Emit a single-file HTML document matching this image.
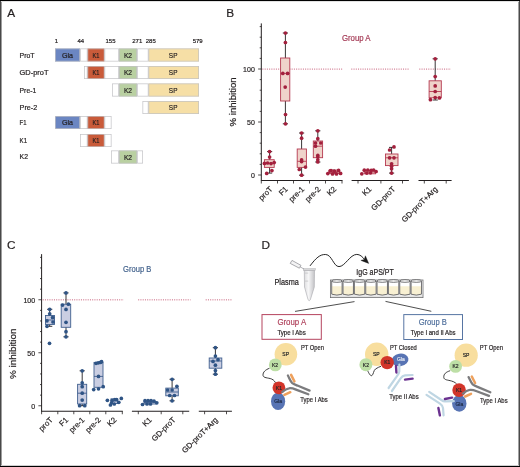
<!DOCTYPE html>
<html><head><meta charset="utf-8"><style>
html,body{margin:0;padding:0;background:#fff;}
body{width:520px;height:467px;overflow:hidden;position:relative;}
svg{position:absolute;left:0;top:0;will-change:transform;}
text{font-family:"Liberation Sans", sans-serif;}
.frame{position:absolute;left:0;top:0;width:518px;height:465px;border-top:1px solid #111;border-bottom:1px solid #111;border-left:1px solid #555;border-right:1px solid #555;box-sizing:content-box;pointer-events:none;}
</style></head><body>
<svg width="520" height="467" viewBox="0 0 520 467" font-family='"Liberation Sans", sans-serif'>
<rect x="0" y="0" width="520" height="467" fill="#fff"/>
<text x="7.2" y="17.0" font-size="11.8" fill="#231f20" stroke="#231f20" stroke-width="0.2" text-anchor="start" >A</text>
<text x="226.3" y="17.1" font-size="11.8" fill="#231f20" stroke="#231f20" stroke-width="0.2" text-anchor="start" >B</text>
<text x="7.0" y="248.8" font-size="11.8" fill="#231f20" stroke="#231f20" stroke-width="0.2" text-anchor="start" >C</text>
<text x="261.6" y="248.8" font-size="11.8" fill="#231f20" stroke="#231f20" stroke-width="0.2" text-anchor="start" >D</text>
<text x="19.6" y="57.9" font-size="7.3" fill="#231f20" stroke="#231f20" stroke-width="0.2" text-anchor="start" textLength="15.0" lengthAdjust="spacingAndGlyphs" >ProT</text>
<rect x="55" y="48.5" width="25" height="13.0" fill="#6b86c2"/>
<rect x="80" y="48.5" width="7.5" height="13.0" fill="#fff"/>
<rect x="87.5" y="48.5" width="17.0" height="13.0" fill="#c95b3a"/>
<rect x="104.5" y="48.5" width="14.5" height="13.0" fill="#fff"/>
<rect x="119" y="48.5" width="18" height="13.0" fill="#b9d0a1"/>
<rect x="137" y="48.5" width="11.5" height="13.0" fill="#fff"/>
<rect x="148.5" y="48.5" width="50.5" height="13.0" fill="#f6dfa6"/>
<rect x="55.35" y="48.85" width="24.3" height="12.3" fill="none" stroke="#c2c2c5" stroke-width="0.7"/>
<text x="67.5" y="57.8" font-size="7.9" fill="#231f20" stroke="#231f20" stroke-width="0.2" text-anchor="middle" textLength="11.1" lengthAdjust="spacingAndGlyphs" >Gla</text>
<rect x="80.35" y="48.85" width="6.8" height="12.3" fill="none" stroke="#c2c2c5" stroke-width="0.7"/>
<rect x="87.85" y="48.85" width="16.3" height="12.3" fill="none" stroke="#c2c2c5" stroke-width="0.7"/>
<text x="96.0" y="57.8" font-size="7.9" fill="#231f20" stroke="#231f20" stroke-width="0.2" text-anchor="middle" textLength="6.9" lengthAdjust="spacingAndGlyphs" >K1</text>
<rect x="104.85" y="48.85" width="13.8" height="12.3" fill="none" stroke="#c2c2c5" stroke-width="0.7"/>
<rect x="119.35" y="48.85" width="17.3" height="12.3" fill="none" stroke="#c2c2c5" stroke-width="0.7"/>
<text x="128.0" y="57.8" font-size="7.9" fill="#231f20" stroke="#231f20" stroke-width="0.2" text-anchor="middle" textLength="8.2" lengthAdjust="spacingAndGlyphs" >K2</text>
<rect x="137.35" y="48.85" width="10.8" height="12.3" fill="none" stroke="#c2c2c5" stroke-width="0.7"/>
<rect x="148.85" y="48.85" width="49.8" height="12.3" fill="none" stroke="#c2c2c5" stroke-width="0.7"/>
<text x="173.15" y="57.8" font-size="7.9" fill="#231f20" stroke="#231f20" stroke-width="0.2" text-anchor="middle" textLength="8.6" lengthAdjust="spacingAndGlyphs" >SP</text>
<text x="19.6" y="74.7" font-size="7.3" fill="#231f20" stroke="#231f20" stroke-width="0.2" text-anchor="start" textLength="28.9" lengthAdjust="spacingAndGlyphs" >GD-proT</text>
<rect x="84" y="66" width="3.5" height="13.0" fill="#fff"/>
<rect x="87.5" y="66" width="17.0" height="13.0" fill="#c95b3a"/>
<rect x="104.5" y="66" width="14.5" height="13.0" fill="#fff"/>
<rect x="119" y="66" width="18" height="13.0" fill="#b9d0a1"/>
<rect x="137" y="66" width="11.5" height="13.0" fill="#fff"/>
<rect x="148.5" y="66" width="50.5" height="13.0" fill="#f6dfa6"/>
<rect x="84.35" y="66.35" width="2.8" height="12.3" fill="none" stroke="#c2c2c5" stroke-width="0.7"/>
<rect x="87.85" y="66.35" width="16.3" height="12.3" fill="none" stroke="#c2c2c5" stroke-width="0.7"/>
<text x="96.0" y="75.3" font-size="7.9" fill="#231f20" stroke="#231f20" stroke-width="0.2" text-anchor="middle" textLength="6.9" lengthAdjust="spacingAndGlyphs" >K1</text>
<rect x="104.85" y="66.35" width="13.8" height="12.3" fill="none" stroke="#c2c2c5" stroke-width="0.7"/>
<rect x="119.35" y="66.35" width="17.3" height="12.3" fill="none" stroke="#c2c2c5" stroke-width="0.7"/>
<text x="128.0" y="75.3" font-size="7.9" fill="#231f20" stroke="#231f20" stroke-width="0.2" text-anchor="middle" textLength="8.2" lengthAdjust="spacingAndGlyphs" >K2</text>
<rect x="137.35" y="66.35" width="10.8" height="12.3" fill="none" stroke="#c2c2c5" stroke-width="0.7"/>
<rect x="148.85" y="66.35" width="49.8" height="12.3" fill="none" stroke="#c2c2c5" stroke-width="0.7"/>
<text x="173.15" y="75.3" font-size="7.9" fill="#231f20" stroke="#231f20" stroke-width="0.2" text-anchor="middle" textLength="8.6" lengthAdjust="spacingAndGlyphs" >SP</text>
<text x="19.6" y="92.5" font-size="7.3" fill="#231f20" stroke="#231f20" stroke-width="0.2" text-anchor="start" textLength="16.6" lengthAdjust="spacingAndGlyphs" >Pre-1</text>
<rect x="112" y="83.5" width="7" height="13.0" fill="#fff"/>
<rect x="119" y="83.5" width="18" height="13.0" fill="#b9d0a1"/>
<rect x="137" y="83.5" width="11.5" height="13.0" fill="#fff"/>
<rect x="148.5" y="83.5" width="50.5" height="13.0" fill="#f6dfa6"/>
<rect x="112.35" y="83.85" width="6.3" height="12.3" fill="none" stroke="#c2c2c5" stroke-width="0.7"/>
<rect x="119.35" y="83.85" width="17.3" height="12.3" fill="none" stroke="#c2c2c5" stroke-width="0.7"/>
<text x="128.0" y="92.8" font-size="7.9" fill="#231f20" stroke="#231f20" stroke-width="0.2" text-anchor="middle" textLength="8.2" lengthAdjust="spacingAndGlyphs" >K2</text>
<rect x="137.35" y="83.85" width="10.8" height="12.3" fill="none" stroke="#c2c2c5" stroke-width="0.7"/>
<rect x="148.85" y="83.85" width="49.8" height="12.3" fill="none" stroke="#c2c2c5" stroke-width="0.7"/>
<text x="173.15" y="92.8" font-size="7.9" fill="#231f20" stroke="#231f20" stroke-width="0.2" text-anchor="middle" textLength="8.6" lengthAdjust="spacingAndGlyphs" >SP</text>
<text x="19.6" y="110.3" font-size="7.3" fill="#231f20" stroke="#231f20" stroke-width="0.2" text-anchor="start" textLength="17.6" lengthAdjust="spacingAndGlyphs" >Pre-2</text>
<rect x="142.5" y="101" width="6.0" height="13.0" fill="#fff"/>
<rect x="148.5" y="101" width="50.5" height="13.0" fill="#f6dfa6"/>
<rect x="142.85" y="101.35" width="5.3" height="12.3" fill="none" stroke="#c2c2c5" stroke-width="0.7"/>
<rect x="148.85" y="101.35" width="49.8" height="12.3" fill="none" stroke="#c2c2c5" stroke-width="0.7"/>
<text x="173.15" y="110.3" font-size="7.9" fill="#231f20" stroke="#231f20" stroke-width="0.2" text-anchor="middle" textLength="8.6" lengthAdjust="spacingAndGlyphs" >SP</text>
<text x="19.6" y="124.6" font-size="7.3" fill="#231f20" stroke="#231f20" stroke-width="0.2" text-anchor="start" textLength="6.9" lengthAdjust="spacingAndGlyphs" >F1</text>
<rect x="55" y="116" width="25" height="13.0" fill="#6b86c2"/>
<rect x="80" y="116" width="7.5" height="13.0" fill="#fff"/>
<rect x="87.5" y="116" width="17.0" height="13.0" fill="#c95b3a"/>
<rect x="104.5" y="116" width="7.0" height="13.0" fill="#fff"/>
<rect x="55.35" y="116.35" width="24.3" height="12.3" fill="none" stroke="#c2c2c5" stroke-width="0.7"/>
<text x="67.5" y="125.3" font-size="7.9" fill="#231f20" stroke="#231f20" stroke-width="0.2" text-anchor="middle" textLength="11.1" lengthAdjust="spacingAndGlyphs" >Gla</text>
<rect x="80.35" y="116.35" width="6.8" height="12.3" fill="none" stroke="#c2c2c5" stroke-width="0.7"/>
<rect x="87.85" y="116.35" width="16.3" height="12.3" fill="none" stroke="#c2c2c5" stroke-width="0.7"/>
<text x="96.0" y="125.3" font-size="7.9" fill="#231f20" stroke="#231f20" stroke-width="0.2" text-anchor="middle" textLength="6.9" lengthAdjust="spacingAndGlyphs" >K1</text>
<rect x="104.85" y="116.35" width="6.3" height="12.3" fill="none" stroke="#c2c2c5" stroke-width="0.7"/>
<text x="19.6" y="142.9" font-size="7.3" fill="#231f20" stroke="#231f20" stroke-width="0.2" text-anchor="start" textLength="7.5" lengthAdjust="spacingAndGlyphs" >K1</text>
<rect x="80" y="134" width="7.5" height="13.0" fill="#fff"/>
<rect x="87.5" y="134" width="17.0" height="13.0" fill="#c95b3a"/>
<rect x="104.5" y="134" width="7.0" height="13.0" fill="#fff"/>
<rect x="80.35" y="134.35" width="6.8" height="12.3" fill="none" stroke="#c2c2c5" stroke-width="0.7"/>
<rect x="87.85" y="134.35" width="16.3" height="12.3" fill="none" stroke="#c2c2c5" stroke-width="0.7"/>
<text x="96.0" y="143.3" font-size="7.9" fill="#231f20" stroke="#231f20" stroke-width="0.2" text-anchor="middle" textLength="6.9" lengthAdjust="spacingAndGlyphs" >K1</text>
<rect x="104.85" y="134.35" width="6.3" height="12.3" fill="none" stroke="#c2c2c5" stroke-width="0.7"/>
<text x="19.6" y="159.3" font-size="7.3" fill="#231f20" stroke="#231f20" stroke-width="0.2" text-anchor="start" textLength="8.4" lengthAdjust="spacingAndGlyphs" >K2</text>
<rect x="111" y="150.5" width="8" height="13.0" fill="#fff"/>
<rect x="119" y="150.5" width="18" height="13.0" fill="#b9d0a1"/>
<rect x="137" y="150.5" width="6" height="13.0" fill="#fff"/>
<rect x="111.35" y="150.85" width="7.3" height="12.3" fill="none" stroke="#c2c2c5" stroke-width="0.7"/>
<rect x="119.35" y="150.85" width="17.3" height="12.3" fill="none" stroke="#c2c2c5" stroke-width="0.7"/>
<text x="128.0" y="159.8" font-size="7.9" fill="#231f20" stroke="#231f20" stroke-width="0.2" text-anchor="middle" textLength="8.2" lengthAdjust="spacingAndGlyphs" >K2</text>
<rect x="137.35" y="150.85" width="5.3" height="12.3" fill="none" stroke="#c2c2c5" stroke-width="0.7"/>
<text x="56.3" y="43" font-size="6" fill="#231f20" stroke="#231f20" stroke-width="0.2" text-anchor="middle" >1</text>
<text x="80.8" y="43" font-size="6" fill="#231f20" stroke="#231f20" stroke-width="0.2" text-anchor="middle" >44</text>
<text x="110.5" y="43" font-size="6" fill="#231f20" stroke="#231f20" stroke-width="0.2" text-anchor="middle" >155</text>
<text x="137.3" y="43" font-size="6" fill="#231f20" stroke="#231f20" stroke-width="0.2" text-anchor="middle" >271</text>
<text x="150.8" y="43" font-size="6" fill="#231f20" stroke="#231f20" stroke-width="0.2" text-anchor="middle" >285</text>
<text x="197.7" y="43" font-size="6" fill="#231f20" stroke="#231f20" stroke-width="0.2" text-anchor="middle" >579</text>
<g transform="translate(0,0)">
<line x1="261.3" y1="23.4" x2="261.3" y2="181.0" stroke="#231f20" stroke-width="1"/>
<line x1="258.1" y1="175.0" x2="261.3" y2="175.0" stroke="#231f20" stroke-width="0.8"/>
<line x1="259.7" y1="164.4" x2="261.3" y2="164.4" stroke="#231f20" stroke-width="0.8"/>
<line x1="259.7" y1="153.8" x2="261.3" y2="153.8" stroke="#231f20" stroke-width="0.8"/>
<line x1="259.7" y1="143.2" x2="261.3" y2="143.2" stroke="#231f20" stroke-width="0.8"/>
<line x1="259.7" y1="132.6" x2="261.3" y2="132.6" stroke="#231f20" stroke-width="0.8"/>
<line x1="258.1" y1="122.0" x2="261.3" y2="122.0" stroke="#231f20" stroke-width="0.8"/>
<line x1="259.7" y1="111.4" x2="261.3" y2="111.4" stroke="#231f20" stroke-width="0.8"/>
<line x1="259.7" y1="100.8" x2="261.3" y2="100.8" stroke="#231f20" stroke-width="0.8"/>
<line x1="259.7" y1="90.19999999999999" x2="261.3" y2="90.19999999999999" stroke="#231f20" stroke-width="0.8"/>
<line x1="259.7" y1="79.6" x2="261.3" y2="79.6" stroke="#231f20" stroke-width="0.8"/>
<line x1="258.1" y1="69.0" x2="261.3" y2="69.0" stroke="#231f20" stroke-width="0.8"/>
<line x1="259.7" y1="58.39999999999999" x2="261.3" y2="58.39999999999999" stroke="#231f20" stroke-width="0.8"/>
<line x1="259.7" y1="47.8" x2="261.3" y2="47.8" stroke="#231f20" stroke-width="0.8"/>
<line x1="259.7" y1="37.19999999999999" x2="261.3" y2="37.19999999999999" stroke="#231f20" stroke-width="0.8"/>
<line x1="259.7" y1="26.599999999999994" x2="261.3" y2="26.599999999999994" stroke="#231f20" stroke-width="0.8"/>
<text x="254.8" y="177.75" font-size="7.6" fill="#231f20" stroke="#231f20" stroke-width="0.2" text-anchor="end" textLength="3.9" lengthAdjust="spacingAndGlyphs" >0</text>
<text x="254.8" y="124.75" font-size="7.6" fill="#231f20" stroke="#231f20" stroke-width="0.2" text-anchor="end" textLength="7.8" lengthAdjust="spacingAndGlyphs" >50</text>
<text x="254.8" y="71.75" font-size="7.6" fill="#231f20" stroke="#231f20" stroke-width="0.2" text-anchor="end" textLength="11.7" lengthAdjust="spacingAndGlyphs" >100</text>
<text transform="translate(235.5,101.9) rotate(-90)" font-size="8.8" fill="#231f20" stroke="#231f20" stroke-width="0.2" text-anchor="middle" textLength="49" lengthAdjust="spacingAndGlyphs">% inhibition</text>
<line x1="261.3" y1="180.5" x2="342.5" y2="180.5" stroke="#231f20" stroke-width="1.1"/>
<line x1="261.3" y1="180.5" x2="261.3" y2="183.5" stroke="#231f20" stroke-width="0.8"/>
<line x1="277.5" y1="180.5" x2="277.5" y2="183.5" stroke="#231f20" stroke-width="0.8"/>
<line x1="293.5" y1="180.5" x2="293.5" y2="183.5" stroke="#231f20" stroke-width="0.8"/>
<line x1="309.5" y1="180.5" x2="309.5" y2="183.5" stroke="#231f20" stroke-width="0.8"/>
<line x1="325.5" y1="180.5" x2="325.5" y2="183.5" stroke="#231f20" stroke-width="0.8"/>
<line x1="342.0" y1="180.5" x2="342.0" y2="183.5" stroke="#231f20" stroke-width="0.8"/>
<line x1="351.6" y1="180.5" x2="408.9" y2="180.5" stroke="#231f20" stroke-width="1.1"/>
<line x1="358.0" y1="180.5" x2="358.0" y2="183.5" stroke="#231f20" stroke-width="0.8"/>
<line x1="380.9" y1="180.5" x2="380.9" y2="183.5" stroke="#231f20" stroke-width="0.8"/>
<line x1="402.5" y1="180.5" x2="402.5" y2="183.5" stroke="#231f20" stroke-width="0.8"/>
<line x1="418.5" y1="180.5" x2="451.6" y2="180.5" stroke="#231f20" stroke-width="1.1"/>
<line x1="424.3" y1="180.5" x2="424.3" y2="183.5" stroke="#231f20" stroke-width="0.8"/>
<line x1="446.2" y1="180.5" x2="446.2" y2="183.5" stroke="#231f20" stroke-width="0.8"/>
<line x1="262.4" y1="69.1" x2="342.5" y2="69.1" stroke="#c65d78" stroke-width="1" stroke-dasharray="1 1.25"/>
<line x1="351.3" y1="69.1" x2="409.5" y2="69.1" stroke="#c65d78" stroke-width="1" stroke-dasharray="1 1.25"/>
<line x1="419.3" y1="69.1" x2="451.0" y2="69.1" stroke="#c65d78" stroke-width="1" stroke-dasharray="1 1.25"/>
<text x="341.9" y="41" font-size="8.2" fill="#a63d58" stroke="#a63d58" stroke-width="0.2" text-anchor="start" textLength="28.7" lengthAdjust="spacingAndGlyphs" >Group A</text>
<text transform="translate(273.09999999999997,189.6) rotate(-45)" font-size="7.8" fill="#231f20" stroke="#231f20" stroke-width="0.2" text-anchor="end">proT</text>
<text transform="translate(288.4,189.6) rotate(-45)" font-size="7.8" fill="#231f20" stroke="#231f20" stroke-width="0.2" text-anchor="end">F1</text>
<text transform="translate(304.79999999999995,189.6) rotate(-45)" font-size="7.8" fill="#231f20" stroke="#231f20" stroke-width="0.2" text-anchor="end">pre-1</text>
<text transform="translate(321.0,189.6) rotate(-45)" font-size="7.8" fill="#231f20" stroke="#231f20" stroke-width="0.2" text-anchor="end">pre-2</text>
<text transform="translate(336.79999999999995,189.6) rotate(-45)" font-size="7.8" fill="#231f20" stroke="#231f20" stroke-width="0.2" text-anchor="end">K2</text>
<text transform="translate(372.0,189.6) rotate(-45)" font-size="7.8" fill="#231f20" stroke="#231f20" stroke-width="0.2" text-anchor="end">K1</text>
<text transform="translate(395.79999999999995,189.6) rotate(-45)" font-size="7.8" fill="#231f20" stroke="#231f20" stroke-width="0.2" text-anchor="end">GD-proT</text>
<text transform="translate(438.0,189.6) rotate(-45)" font-size="7.8" fill="#231f20" stroke="#231f20" stroke-width="0.2" text-anchor="end">GD-proT+Arg</text>
<line x1="269.6" y1="151.6" x2="269.6" y2="173.1" stroke="#231f20" stroke-width="0.9"/>
<line x1="267.0" y1="151.6" x2="272.20000000000005" y2="151.6" stroke="#231f20" stroke-width="0.9"/>
<line x1="267.0" y1="173.1" x2="272.20000000000005" y2="173.1" stroke="#231f20" stroke-width="0.9"/>
<rect x="264.4" y="159.7" width="9.800000000000011" height="7.700000000000017" fill="#efd3ca" stroke="#b53a51" stroke-width="0.9"/>
<line x1="264.4" y1="163.3" x2="274.2" y2="163.3" stroke="#b53a51" stroke-width="0.9"/>
<circle cx="269.6" cy="151.6" r="1.85" fill="#a3203d"/>
<circle cx="269.6" cy="157.1" r="1.85" fill="#a3203d"/>
<circle cx="264.4" cy="163.4" r="1.85" fill="#a3203d"/>
<circle cx="267.6" cy="163.0" r="1.85" fill="#a3203d"/>
<circle cx="271.0" cy="163.6" r="1.85" fill="#a3203d"/>
<circle cx="274.2" cy="162.6" r="1.85" fill="#a3203d"/>
<circle cx="271.9" cy="170.6" r="1.85" fill="#a3203d"/>
<circle cx="266.7" cy="173.4" r="1.85" fill="#a3203d"/>
<line x1="285.4" y1="33.0" x2="285.4" y2="123.8" stroke="#231f20" stroke-width="0.9"/>
<line x1="282.79999999999995" y1="33.0" x2="288.0" y2="33.0" stroke="#231f20" stroke-width="0.9"/>
<line x1="282.79999999999995" y1="123.8" x2="288.0" y2="123.8" stroke="#231f20" stroke-width="0.9"/>
<rect x="280.6" y="58.0" width="9.199999999999989" height="43.0" fill="#efd3ca" stroke="#b53a51" stroke-width="0.9"/>
<line x1="280.6" y1="73.4" x2="289.8" y2="73.4" stroke="#b53a51" stroke-width="0.9"/>
<circle cx="285.4" cy="33.0" r="1.85" fill="#a3203d"/>
<circle cx="285.4" cy="42.5" r="1.85" fill="#a3203d"/>
<circle cx="282.8" cy="73.4" r="1.85" fill="#a3203d"/>
<circle cx="287.6" cy="73.4" r="1.85" fill="#a3203d"/>
<circle cx="285.2" cy="87.1" r="1.85" fill="#a3203d"/>
<circle cx="285.5" cy="114.5" r="1.85" fill="#a3203d"/>
<circle cx="285.5" cy="123.8" r="1.85" fill="#a3203d"/>
<line x1="301.6" y1="133.0" x2="301.6" y2="175.2" stroke="#231f20" stroke-width="0.9"/>
<line x1="299.0" y1="133.0" x2="304.20000000000005" y2="133.0" stroke="#231f20" stroke-width="0.9"/>
<line x1="299.0" y1="175.2" x2="304.20000000000005" y2="175.2" stroke="#231f20" stroke-width="0.9"/>
<rect x="297.2" y="149.0" width="9.199999999999989" height="18.400000000000006" fill="#efd3ca" stroke="#b53a51" stroke-width="0.9"/>
<line x1="297.2" y1="161.3" x2="306.4" y2="161.3" stroke="#b53a51" stroke-width="0.9"/>
<circle cx="301.6" cy="133.0" r="1.85" fill="#a3203d"/>
<circle cx="301.6" cy="138.2" r="1.85" fill="#a3203d"/>
<circle cx="301.6" cy="159.9" r="1.85" fill="#a3203d"/>
<circle cx="301.6" cy="161.6" r="1.85" fill="#a3203d"/>
<circle cx="305.5" cy="167.1" r="1.85" fill="#a3203d"/>
<circle cx="299.3" cy="169.5" r="1.85" fill="#a3203d"/>
<circle cx="301.6" cy="175.2" r="1.85" fill="#a3203d"/>
<line x1="317.8" y1="130.8" x2="317.8" y2="162.0" stroke="#231f20" stroke-width="0.9"/>
<line x1="315.2" y1="130.8" x2="320.40000000000003" y2="130.8" stroke="#231f20" stroke-width="0.9"/>
<line x1="315.2" y1="162.0" x2="320.40000000000003" y2="162.0" stroke="#231f20" stroke-width="0.9"/>
<rect x="313.3" y="141.0" width="9.300000000000011" height="16.69999999999999" fill="#efd3ca" stroke="#b53a51" stroke-width="0.9"/>
<line x1="313.3" y1="146.2" x2="322.6" y2="146.2" stroke="#b53a51" stroke-width="0.9"/>
<circle cx="317.8" cy="130.8" r="1.85" fill="#a3203d"/>
<circle cx="317.8" cy="138.7" r="1.85" fill="#a3203d"/>
<circle cx="315.5" cy="143.0" r="1.85" fill="#a3203d"/>
<circle cx="320.8" cy="143.0" r="1.85" fill="#a3203d"/>
<circle cx="315.5" cy="146.2" r="1.85" fill="#a3203d"/>
<circle cx="317.8" cy="155.4" r="1.85" fill="#a3203d"/>
<circle cx="317.8" cy="157.0" r="1.85" fill="#a3203d"/>
<circle cx="317.8" cy="159.8" r="1.85" fill="#a3203d"/>
<circle cx="317.8" cy="162.0" r="1.85" fill="#a3203d"/>
<line x1="334.0" y1="169.3" x2="334.0" y2="174.3" stroke="#231f20" stroke-width="0.9"/>
<rect x="329.4" y="170.0" width="10.0" height="3.4000000000000057" fill="#efd3ca" stroke="#b53a51" stroke-width="0.9"/>
<line x1="329.4" y1="171.8" x2="339.4" y2="171.8" stroke="#b53a51" stroke-width="0.9"/>
<circle cx="327.8" cy="173.6" r="1.85" fill="#a3203d"/>
<circle cx="330.0" cy="171.0" r="1.85" fill="#a3203d"/>
<circle cx="332.5" cy="173.9" r="1.85" fill="#a3203d"/>
<circle cx="334.5" cy="171.3" r="1.85" fill="#a3203d"/>
<circle cx="336.5" cy="173.9" r="1.85" fill="#a3203d"/>
<circle cx="338.6" cy="170.4" r="1.85" fill="#a3203d"/>
<circle cx="340.6" cy="173.4" r="1.85" fill="#a3203d"/>
<circle cx="331.0" cy="170.5" r="1.85" fill="#a3203d"/>
<line x1="369.3" y1="170.0" x2="369.3" y2="174.0" stroke="#231f20" stroke-width="0.9"/>
<rect x="364.2" y="170.4" width="11.400000000000034" height="3.4000000000000057" fill="#efd3ca" stroke="#b53a51" stroke-width="0.9"/>
<line x1="364.2" y1="172.0" x2="375.6" y2="172.0" stroke="#b53a51" stroke-width="0.9"/>
<circle cx="361.8" cy="173.8" r="1.85" fill="#a3203d"/>
<circle cx="364.3" cy="170.2" r="1.85" fill="#a3203d"/>
<circle cx="367.8" cy="170.0" r="1.85" fill="#a3203d"/>
<circle cx="373.6" cy="170.0" r="1.85" fill="#a3203d"/>
<circle cx="376.1" cy="171.5" r="1.85" fill="#a3203d"/>
<circle cx="366.8" cy="173.1" r="1.85" fill="#a3203d"/>
<circle cx="370.5" cy="172.8" r="1.85" fill="#a3203d"/>
<circle cx="371.2" cy="170.3" r="1.85" fill="#a3203d"/>
<line x1="391.6" y1="147.4" x2="391.6" y2="173.1" stroke="#231f20" stroke-width="0.9"/>
<line x1="389.0" y1="147.4" x2="394.20000000000005" y2="147.4" stroke="#231f20" stroke-width="0.9"/>
<line x1="389.0" y1="173.1" x2="394.20000000000005" y2="173.1" stroke="#231f20" stroke-width="0.9"/>
<rect x="385.5" y="154.0" width="12.5" height="11.599999999999994" fill="#efd3ca" stroke="#b53a51" stroke-width="0.9"/>
<line x1="385.5" y1="157.8" x2="398.0" y2="157.8" stroke="#b53a51" stroke-width="0.9"/>
<circle cx="394.0" cy="146.9" r="1.85" fill="#a3203d"/>
<circle cx="389.6" cy="150.0" r="1.85" fill="#a3203d"/>
<circle cx="389.6" cy="157.8" r="1.85" fill="#a3203d"/>
<circle cx="394.0" cy="157.8" r="1.85" fill="#a3203d"/>
<circle cx="391.6" cy="163.8" r="1.85" fill="#a3203d"/>
<circle cx="391.6" cy="166.3" r="1.85" fill="#a3203d"/>
<circle cx="391.6" cy="168.8" r="1.85" fill="#a3203d"/>
<circle cx="391.6" cy="173.1" r="1.85" fill="#a3203d"/>
<line x1="435.2" y1="58.8" x2="435.2" y2="100.0" stroke="#231f20" stroke-width="0.9"/>
<line x1="432.59999999999997" y1="58.8" x2="437.8" y2="58.8" stroke="#231f20" stroke-width="0.9"/>
<line x1="432.59999999999997" y1="100.0" x2="437.8" y2="100.0" stroke="#231f20" stroke-width="0.9"/>
<rect x="429.1" y="80.8" width="12.199999999999989" height="17.0" fill="#efd3ca" stroke="#b53a51" stroke-width="0.9"/>
<line x1="429.1" y1="91.5" x2="441.3" y2="91.5" stroke="#b53a51" stroke-width="0.9"/>
<circle cx="435.2" cy="58.8" r="1.85" fill="#a3203d"/>
<circle cx="435.2" cy="76.6" r="1.85" fill="#a3203d"/>
<circle cx="435.2" cy="85.9" r="1.85" fill="#a3203d"/>
<circle cx="435.2" cy="91.5" r="1.85" fill="#a3203d"/>
<circle cx="435.2" cy="97.5" r="1.85" fill="#a3203d"/>
<circle cx="439.4" cy="97.9" r="1.85" fill="#a3203d"/>
<circle cx="430.4" cy="99.7" r="1.85" fill="#a3203d"/>
</g>
<g transform="translate(-219.7,230.75)">
<line x1="261.3" y1="23.4" x2="261.3" y2="181.0" stroke="#231f20" stroke-width="1"/>
<line x1="258.1" y1="175.0" x2="261.3" y2="175.0" stroke="#231f20" stroke-width="0.8"/>
<line x1="259.7" y1="164.4" x2="261.3" y2="164.4" stroke="#231f20" stroke-width="0.8"/>
<line x1="259.7" y1="153.8" x2="261.3" y2="153.8" stroke="#231f20" stroke-width="0.8"/>
<line x1="259.7" y1="143.2" x2="261.3" y2="143.2" stroke="#231f20" stroke-width="0.8"/>
<line x1="259.7" y1="132.6" x2="261.3" y2="132.6" stroke="#231f20" stroke-width="0.8"/>
<line x1="258.1" y1="122.0" x2="261.3" y2="122.0" stroke="#231f20" stroke-width="0.8"/>
<line x1="259.7" y1="111.4" x2="261.3" y2="111.4" stroke="#231f20" stroke-width="0.8"/>
<line x1="259.7" y1="100.8" x2="261.3" y2="100.8" stroke="#231f20" stroke-width="0.8"/>
<line x1="259.7" y1="90.19999999999999" x2="261.3" y2="90.19999999999999" stroke="#231f20" stroke-width="0.8"/>
<line x1="259.7" y1="79.6" x2="261.3" y2="79.6" stroke="#231f20" stroke-width="0.8"/>
<line x1="258.1" y1="69.0" x2="261.3" y2="69.0" stroke="#231f20" stroke-width="0.8"/>
<line x1="259.7" y1="58.39999999999999" x2="261.3" y2="58.39999999999999" stroke="#231f20" stroke-width="0.8"/>
<line x1="259.7" y1="47.8" x2="261.3" y2="47.8" stroke="#231f20" stroke-width="0.8"/>
<line x1="259.7" y1="37.19999999999999" x2="261.3" y2="37.19999999999999" stroke="#231f20" stroke-width="0.8"/>
<line x1="259.7" y1="26.599999999999994" x2="261.3" y2="26.599999999999994" stroke="#231f20" stroke-width="0.8"/>
<text x="254.8" y="177.75" font-size="7.6" fill="#231f20" stroke="#231f20" stroke-width="0.2" text-anchor="end" textLength="3.9" lengthAdjust="spacingAndGlyphs" >0</text>
<text x="254.8" y="124.75" font-size="7.6" fill="#231f20" stroke="#231f20" stroke-width="0.2" text-anchor="end" textLength="7.8" lengthAdjust="spacingAndGlyphs" >50</text>
<text x="254.8" y="71.75" font-size="7.6" fill="#231f20" stroke="#231f20" stroke-width="0.2" text-anchor="end" textLength="11.7" lengthAdjust="spacingAndGlyphs" >100</text>
<text transform="translate(235.5,122.95) rotate(-90)" font-size="8.8" fill="#231f20" stroke="#231f20" stroke-width="0.2" text-anchor="middle" textLength="50.4" lengthAdjust="spacingAndGlyphs">% inhibition</text>
<line x1="261.3" y1="180.5" x2="342.5" y2="180.5" stroke="#231f20" stroke-width="1.1"/>
<line x1="261.3" y1="180.5" x2="261.3" y2="183.5" stroke="#231f20" stroke-width="0.8"/>
<line x1="277.5" y1="180.5" x2="277.5" y2="183.5" stroke="#231f20" stroke-width="0.8"/>
<line x1="293.5" y1="180.5" x2="293.5" y2="183.5" stroke="#231f20" stroke-width="0.8"/>
<line x1="309.5" y1="180.5" x2="309.5" y2="183.5" stroke="#231f20" stroke-width="0.8"/>
<line x1="325.5" y1="180.5" x2="325.5" y2="183.5" stroke="#231f20" stroke-width="0.8"/>
<line x1="342.0" y1="180.5" x2="342.0" y2="183.5" stroke="#231f20" stroke-width="0.8"/>
<line x1="351.6" y1="180.5" x2="408.9" y2="180.5" stroke="#231f20" stroke-width="1.1"/>
<line x1="358.0" y1="180.5" x2="358.0" y2="183.5" stroke="#231f20" stroke-width="0.8"/>
<line x1="380.9" y1="180.5" x2="380.9" y2="183.5" stroke="#231f20" stroke-width="0.8"/>
<line x1="402.5" y1="180.5" x2="402.5" y2="183.5" stroke="#231f20" stroke-width="0.8"/>
<line x1="418.5" y1="180.5" x2="451.6" y2="180.5" stroke="#231f20" stroke-width="1.1"/>
<line x1="424.3" y1="180.5" x2="424.3" y2="183.5" stroke="#231f20" stroke-width="0.8"/>
<line x1="446.2" y1="180.5" x2="446.2" y2="183.5" stroke="#231f20" stroke-width="0.8"/>
<line x1="262.4" y1="69.1" x2="343.5" y2="69.1" stroke="#c65d78" stroke-width="1" stroke-dasharray="1 1.25"/>
<line x1="357.9" y1="69.1" x2="410.2" y2="69.1" stroke="#c65d78" stroke-width="1" stroke-dasharray="1 1.25"/>
<line x1="425.4" y1="69.1" x2="452.2" y2="69.1" stroke="#c65d78" stroke-width="1" stroke-dasharray="1 1.25"/>
<text x="342.7" y="41" font-size="8.2" fill="#47668f" stroke="#47668f" stroke-width="0.2" text-anchor="start" textLength="28.3" lengthAdjust="spacingAndGlyphs" >Group B</text>
<text transform="translate(273.09999999999997,189.6) rotate(-45)" font-size="7.8" fill="#231f20" stroke="#231f20" stroke-width="0.2" text-anchor="end">proT</text>
<text transform="translate(288.4,189.6) rotate(-45)" font-size="7.8" fill="#231f20" stroke="#231f20" stroke-width="0.2" text-anchor="end">F1</text>
<text transform="translate(304.79999999999995,189.6) rotate(-45)" font-size="7.8" fill="#231f20" stroke="#231f20" stroke-width="0.2" text-anchor="end">pre-1</text>
<text transform="translate(321.0,189.6) rotate(-45)" font-size="7.8" fill="#231f20" stroke="#231f20" stroke-width="0.2" text-anchor="end">pre-2</text>
<text transform="translate(336.79999999999995,189.6) rotate(-45)" font-size="7.8" fill="#231f20" stroke="#231f20" stroke-width="0.2" text-anchor="end">K2</text>
<text transform="translate(372.0,189.6) rotate(-45)" font-size="7.8" fill="#231f20" stroke="#231f20" stroke-width="0.2" text-anchor="end">K1</text>
<text transform="translate(395.79999999999995,189.6) rotate(-45)" font-size="7.8" fill="#231f20" stroke="#231f20" stroke-width="0.2" text-anchor="end">GD-proT</text>
<text transform="translate(438.0,189.6) rotate(-45)" font-size="7.8" fill="#231f20" stroke="#231f20" stroke-width="0.2" text-anchor="end">GD-proT+Arg</text>
<line x1="269.4" y1="78.55000000000001" x2="269.4" y2="95.55000000000001" stroke="#231f20" stroke-width="0.9"/>
<line x1="266.79999999999995" y1="78.55000000000001" x2="272.0" y2="78.55000000000001" stroke="#231f20" stroke-width="0.9"/>
<line x1="266.79999999999995" y1="95.55000000000001" x2="272.0" y2="95.55000000000001" stroke="#231f20" stroke-width="0.9"/>
<rect x="265.2" y="84.75" width="9.0" height="9.0" fill="#cacee2" stroke="#41608f" stroke-width="0.9"/>
<line x1="265.2" y1="89.25" x2="274.2" y2="89.25" stroke="#41608f" stroke-width="0.9"/>
<circle cx="269.4" cy="78.55000000000001" r="1.85" fill="#2f5485"/>
<circle cx="269.4" cy="83.05000000000001" r="1.85" fill="#2f5485"/>
<circle cx="266.7" cy="90.05000000000001" r="1.85" fill="#2f5485"/>
<circle cx="272.3" cy="86.75" r="1.85" fill="#2f5485"/>
<circle cx="272.7" cy="91.25" r="1.85" fill="#2f5485"/>
<circle cx="266.7" cy="95.55000000000001" r="1.85" fill="#2f5485"/>
<circle cx="269.2" cy="112.55000000000001" r="1.85" fill="#2f5485"/>
<line x1="285.7" y1="62.14999999999998" x2="285.7" y2="106.05000000000001" stroke="#231f20" stroke-width="0.9"/>
<line x1="283.09999999999997" y1="62.14999999999998" x2="288.3" y2="62.14999999999998" stroke="#231f20" stroke-width="0.9"/>
<line x1="283.09999999999997" y1="106.05000000000001" x2="288.3" y2="106.05000000000001" stroke="#231f20" stroke-width="0.9"/>
<rect x="280.9" y="73.44999999999999" width="9.5" height="23.100000000000023" fill="#cacee2" stroke="#41608f" stroke-width="0.9"/>
<circle cx="285.7" cy="62.14999999999998" r="1.85" fill="#2f5485"/>
<circle cx="282.2" cy="74.35000000000002" r="1.85" fill="#2f5485"/>
<circle cx="288.1" cy="73.44999999999999" r="1.85" fill="#2f5485"/>
<circle cx="285.7" cy="78.64999999999998" r="1.85" fill="#2f5485"/>
<circle cx="285.7" cy="91.55000000000001" r="1.85" fill="#2f5485"/>
<circle cx="285.7" cy="100.94999999999999" r="1.85" fill="#2f5485"/>
<circle cx="285.7" cy="106.05000000000001" r="1.85" fill="#2f5485"/>
<line x1="301.9" y1="140.05" x2="301.9" y2="174.95" stroke="#231f20" stroke-width="0.9"/>
<line x1="299.29999999999995" y1="140.05" x2="304.5" y2="140.05" stroke="#231f20" stroke-width="0.9"/>
<line x1="299.29999999999995" y1="174.95" x2="304.5" y2="174.95" stroke="#231f20" stroke-width="0.9"/>
<rect x="297.29999999999995" y="153.55" width="9.100000000000023" height="19.69999999999999" fill="#cacee2" stroke="#41608f" stroke-width="0.9"/>
<line x1="297.29999999999995" y1="162.45" x2="306.4" y2="162.45" stroke="#41608f" stroke-width="0.9"/>
<circle cx="301.9" cy="140.05" r="1.85" fill="#2f5485"/>
<circle cx="301.9" cy="152.05" r="1.85" fill="#2f5485"/>
<circle cx="301.9" cy="155.95" r="1.85" fill="#2f5485"/>
<circle cx="301.9" cy="162.45" r="1.85" fill="#2f5485"/>
<circle cx="301.9" cy="169.35000000000002" r="1.85" fill="#2f5485"/>
<circle cx="299.29999999999995" cy="174.95" r="1.85" fill="#2f5485"/>
<circle cx="304.5" cy="174.95" r="1.85" fill="#2f5485"/>
<line x1="318.2" y1="131.64999999999998" x2="318.2" y2="156.55" stroke="#231f20" stroke-width="0.9"/>
<rect x="313.7" y="131.64999999999998" width="9.0" height="24.900000000000034" fill="#cacee2" stroke="#41608f" stroke-width="0.9"/>
<line x1="313.7" y1="145.64999999999998" x2="322.7" y2="145.64999999999998" stroke="#41608f" stroke-width="0.9"/>
<circle cx="315.7" cy="132.55" r="1.85" fill="#2f5485"/>
<circle cx="317.9" cy="132.05" r="1.85" fill="#2f5485"/>
<circle cx="320.1" cy="131.64999999999998" r="1.85" fill="#2f5485"/>
<circle cx="321.29999999999995" cy="130.95" r="1.85" fill="#2f5485"/>
<circle cx="318.2" cy="145.64999999999998" r="1.85" fill="#2f5485"/>
<circle cx="313.4" cy="158.85000000000002" r="1.85" fill="#2f5485"/>
<circle cx="318.2" cy="158.05" r="1.85" fill="#2f5485"/>
<circle cx="322.9" cy="155.95" r="1.85" fill="#2f5485"/>
<line x1="334.0" y1="167.75" x2="334.0" y2="173.75" stroke="#231f20" stroke-width="0.9"/>
<rect x="330.7" y="168.05" width="6.699999999999989" height="4.699999999999989" fill="#cacee2" stroke="#41608f" stroke-width="0.9"/>
<line x1="330.7" y1="170.25" x2="337.4" y2="170.25" stroke="#41608f" stroke-width="0.9"/>
<circle cx="327.1" cy="169.55" r="1.85" fill="#2f5485"/>
<circle cx="330.1" cy="174.25" r="1.85" fill="#2f5485"/>
<circle cx="331.79999999999995" cy="169.75" r="1.85" fill="#2f5485"/>
<circle cx="334.0" cy="173.25" r="1.85" fill="#2f5485"/>
<circle cx="334.6" cy="168.75" r="1.85" fill="#2f5485"/>
<circle cx="336.2" cy="168.75" r="1.85" fill="#2f5485"/>
<circle cx="338.5" cy="171.55" r="1.85" fill="#2f5485"/>
<circle cx="341.0" cy="167.64999999999998" r="1.85" fill="#2f5485"/>
<circle cx="331.2" cy="172.25" r="1.85" fill="#2f5485"/>
<line x1="369.29999999999995" y1="169.75" x2="369.29999999999995" y2="173.75" stroke="#231f20" stroke-width="0.9"/>
<rect x="363.7" y="170.75" width="12.0" height="2.5" fill="#cacee2" stroke="#41608f" stroke-width="0.9"/>
<line x1="363.7" y1="171.75" x2="375.7" y2="171.75" stroke="#41608f" stroke-width="0.9"/>
<circle cx="362.2" cy="173.75" r="1.85" fill="#2f5485"/>
<circle cx="364.7" cy="169.95" r="1.85" fill="#2f5485"/>
<circle cx="367.7" cy="169.75" r="1.85" fill="#2f5485"/>
<circle cx="370.7" cy="169.75" r="1.85" fill="#2f5485"/>
<circle cx="373.7" cy="170.25" r="1.85" fill="#2f5485"/>
<circle cx="376.5" cy="172.05" r="1.85" fill="#2f5485"/>
<circle cx="366.7" cy="173.25" r="1.85" fill="#2f5485"/>
<circle cx="370.2" cy="173.25" r="1.85" fill="#2f5485"/>
<line x1="391.79999999999995" y1="148.55" x2="391.79999999999995" y2="170.05" stroke="#231f20" stroke-width="0.9"/>
<line x1="389.19999999999993" y1="148.55" x2="394.4" y2="148.55" stroke="#231f20" stroke-width="0.9"/>
<line x1="389.19999999999993" y1="170.05" x2="394.4" y2="170.05" stroke="#231f20" stroke-width="0.9"/>
<rect x="385.5" y="157.35000000000002" width="12.5" height="7.699999999999989" fill="#cacee2" stroke="#41608f" stroke-width="0.9"/>
<line x1="385.5" y1="161.25" x2="398.0" y2="161.25" stroke="#41608f" stroke-width="0.9"/>
<circle cx="391.79999999999995" cy="148.55" r="1.85" fill="#2f5485"/>
<circle cx="396.6" cy="155.55" r="1.85" fill="#2f5485"/>
<circle cx="387.4" cy="159.25" r="1.85" fill="#2f5485"/>
<circle cx="391.79999999999995" cy="159.25" r="1.85" fill="#2f5485"/>
<circle cx="389.4" cy="164.75" r="1.85" fill="#2f5485"/>
<circle cx="394.2" cy="164.75" r="1.85" fill="#2f5485"/>
<circle cx="391.79999999999995" cy="170.05" r="1.85" fill="#2f5485"/>
<line x1="435.1" y1="116.94999999999999" x2="435.1" y2="143.45" stroke="#231f20" stroke-width="0.9"/>
<line x1="432.5" y1="116.94999999999999" x2="437.70000000000005" y2="116.94999999999999" stroke="#231f20" stroke-width="0.9"/>
<line x1="432.5" y1="143.45" x2="437.70000000000005" y2="143.45" stroke="#231f20" stroke-width="0.9"/>
<rect x="428.9" y="127.25" width="12.600000000000023" height="10.199999999999989" fill="#cacee2" stroke="#41608f" stroke-width="0.9"/>
<line x1="428.9" y1="130.25" x2="441.5" y2="130.25" stroke="#41608f" stroke-width="0.9"/>
<circle cx="435.1" cy="116.94999999999999" r="1.85" fill="#2f5485"/>
<circle cx="435.1" cy="125.35000000000002" r="1.85" fill="#2f5485"/>
<circle cx="432.7" cy="130.64999999999998" r="1.85" fill="#2f5485"/>
<circle cx="437.7" cy="128.95" r="1.85" fill="#2f5485"/>
<circle cx="435.1" cy="134.45" r="1.85" fill="#2f5485"/>
<circle cx="435.1" cy="139.85000000000002" r="1.85" fill="#2f5485"/>
<circle cx="435.1" cy="143.45" r="1.85" fill="#2f5485"/>
</g>
<defs><linearGradient id="tg" x1="0" x2="1" y1="0" y2="0"><stop offset="0" stop-color="#dcdcde"/><stop offset="0.4" stop-color="#f7f7f8"/><stop offset="1" stop-color="#c4c4c7"/></linearGradient></defs>
<path d="M290.2 263.4 L292.0 260.4 L301.0 265.4 L299.4 268.2 Z" fill="#f3f3f4" stroke="#95959a" stroke-width="0.8" stroke-linejoin="round"/>
<path d="M299.8 266.6 L303.8 269.0" stroke="#a0a0a4" stroke-width="0.8"/>
<path d="M304.3 270.2 L314.5 270.2 L314.3 287 L310.3 299.8 Q309.2 301.8 308.1 299.8 L304.5 287 Z" fill="url(#tg)" stroke="#a8a8ac" stroke-width="0.6"/>
<rect x="303.6" y="268.8" width="11.6" height="1.7" fill="#d6d6d8" stroke="#9a9a9e" stroke-width="0.4"/>
<line x1="305.2" y1="273.1" x2="308.2" y2="273.1" stroke="#a8a8ac" stroke-width="0.5"/><line x1="305.2" y1="281.1" x2="308.2" y2="281.1" stroke="#a8a8ac" stroke-width="0.5"/>
<text x="274.5" y="284.9" font-size="8.3" fill="#231f20" stroke="#231f20" stroke-width="0.2" text-anchor="start" textLength="24.3" lengthAdjust="spacingAndGlyphs" >Plasma</text>
<path d="M310 265.9 C316 258, 320 254.2, 325.7 254.5 C332 254.8, 333.5 266.6, 339 266.6 C345 266.6, 350 254.4, 356.8 254.4 C360 254.4, 362.5 256.8, 364.6 259.6" fill="none" stroke="#1a1a1a" stroke-width="0.95"/>
<path d="M368.7 263.4 L360.9 260.4 L364.3 259.5 L365.4 255.8 Z" fill="#1a1a1a" stroke="#1a1a1a" stroke-width="0.4" stroke-linejoin="round"/>
<text x="356.3" y="275.4" font-size="8.3" fill="#231f20" stroke="#231f20" stroke-width="0.2" text-anchor="start" textLength="37.5" lengthAdjust="spacingAndGlyphs" >IgG aPS/PT</text>
<rect x="330.4" y="280.0" width="92.6" height="17.6" fill="#fff" stroke="#6e6e70" stroke-width="0.8"/>
<line x1="330.4" y1="296.1" x2="423" y2="296.1" stroke="#9a9a9c" stroke-width="0.5"/>
<path d="M331.7 281 L331.7 294.2 Q336.9 296.0 342.09999999999997 294.2 L342.09999999999997 281 Z" fill="#fff" stroke="none"/>
<path d="M332.0 286.3 L341.79999999999995 286.3 L341.79999999999995 294.2 Q336.9 295.8 332.0 294.2 Z" fill="#f8f0d2"/>
<path d="M331.7 281 L331.7 294.2 Q336.9 296.0 342.09999999999997 294.2 L342.09999999999997 281" fill="none" stroke="#4e4e50" stroke-width="0.8"/>
<ellipse cx="336.9" cy="281.0" rx="5.2" ry="1.3" fill="#fff" stroke="#4e4e50" stroke-width="0.8"/>
<path d="M343.03999999999996 281 L343.03999999999996 294.2 Q348.23999999999995 296.0 353.43999999999994 294.2 L353.43999999999994 281 Z" fill="#fff" stroke="none"/>
<path d="M343.34 286.3 L353.13999999999993 286.3 L353.13999999999993 294.2 Q348.23999999999995 295.8 343.34 294.2 Z" fill="#f8f0d2"/>
<path d="M343.03999999999996 281 L343.03999999999996 294.2 Q348.23999999999995 296.0 353.43999999999994 294.2 L353.43999999999994 281" fill="none" stroke="#4e4e50" stroke-width="0.8"/>
<ellipse cx="348.23999999999995" cy="281.0" rx="5.2" ry="1.3" fill="#fff" stroke="#4e4e50" stroke-width="0.8"/>
<path d="M354.38 281 L354.38 294.2 Q359.58 296.0 364.78 294.2 L364.78 281 Z" fill="#fff" stroke="none"/>
<path d="M354.68 286.3 L364.47999999999996 286.3 L364.47999999999996 294.2 Q359.58 295.8 354.68 294.2 Z" fill="#f8f0d2"/>
<path d="M354.38 281 L354.38 294.2 Q359.58 296.0 364.78 294.2 L364.78 281" fill="none" stroke="#4e4e50" stroke-width="0.8"/>
<ellipse cx="359.58" cy="281.0" rx="5.2" ry="1.3" fill="#fff" stroke="#4e4e50" stroke-width="0.8"/>
<path d="M365.71999999999997 281 L365.71999999999997 294.2 Q370.91999999999996 296.0 376.11999999999995 294.2 L376.11999999999995 281 Z" fill="#fff" stroke="none"/>
<path d="M366.02 286.3 L375.81999999999994 286.3 L375.81999999999994 294.2 Q370.91999999999996 295.8 366.02 294.2 Z" fill="#f8f0d2"/>
<path d="M365.71999999999997 281 L365.71999999999997 294.2 Q370.91999999999996 296.0 376.11999999999995 294.2 L376.11999999999995 281" fill="none" stroke="#4e4e50" stroke-width="0.8"/>
<ellipse cx="370.91999999999996" cy="281.0" rx="5.2" ry="1.3" fill="#fff" stroke="#4e4e50" stroke-width="0.8"/>
<path d="M377.06 281 L377.06 294.2 Q382.26 296.0 387.46 294.2 L387.46 281 Z" fill="#fff" stroke="none"/>
<path d="M377.36 286.3 L387.15999999999997 286.3 L387.15999999999997 294.2 Q382.26 295.8 377.36 294.2 Z" fill="#f8f0d2"/>
<path d="M377.06 281 L377.06 294.2 Q382.26 296.0 387.46 294.2 L387.46 281" fill="none" stroke="#4e4e50" stroke-width="0.8"/>
<ellipse cx="382.26" cy="281.0" rx="5.2" ry="1.3" fill="#fff" stroke="#4e4e50" stroke-width="0.8"/>
<path d="M388.4 281 L388.4 294.2 Q393.59999999999997 296.0 398.79999999999995 294.2 L398.79999999999995 281 Z" fill="#fff" stroke="none"/>
<path d="M388.7 286.3 L398.49999999999994 286.3 L398.49999999999994 294.2 Q393.59999999999997 295.8 388.7 294.2 Z" fill="#f8f0d2"/>
<path d="M388.4 281 L388.4 294.2 Q393.59999999999997 296.0 398.79999999999995 294.2 L398.79999999999995 281" fill="none" stroke="#4e4e50" stroke-width="0.8"/>
<ellipse cx="393.59999999999997" cy="281.0" rx="5.2" ry="1.3" fill="#fff" stroke="#4e4e50" stroke-width="0.8"/>
<path d="M399.74 281 L399.74 294.2 Q404.94 296.0 410.14 294.2 L410.14 281 Z" fill="#fff" stroke="none"/>
<path d="M400.04 286.3 L409.84 286.3 L409.84 294.2 Q404.94 295.8 400.04 294.2 Z" fill="#f8f0d2"/>
<path d="M399.74 281 L399.74 294.2 Q404.94 296.0 410.14 294.2 L410.14 281" fill="none" stroke="#4e4e50" stroke-width="0.8"/>
<ellipse cx="404.94" cy="281.0" rx="5.2" ry="1.3" fill="#fff" stroke="#4e4e50" stroke-width="0.8"/>
<path d="M411.08 281 L411.08 294.2 Q416.28 296.0 421.47999999999996 294.2 L421.47999999999996 281 Z" fill="#fff" stroke="none"/>
<path d="M411.38 286.3 L421.17999999999995 286.3 L421.17999999999995 294.2 Q416.28 295.8 411.38 294.2 Z" fill="#f8f0d2"/>
<path d="M411.08 281 L411.08 294.2 Q416.28 296.0 421.47999999999996 294.2 L421.47999999999996 281" fill="none" stroke="#4e4e50" stroke-width="0.8"/>
<ellipse cx="416.28" cy="281.0" rx="5.2" ry="1.3" fill="#fff" stroke="#4e4e50" stroke-width="0.8"/>
<line x1="354.5" y1="301.6" x2="295" y2="311.4" stroke="#3a3a3a" stroke-width="0.9"/>
<line x1="385.5" y1="301.4" x2="431.3" y2="311.3" stroke="#3a3a3a" stroke-width="0.9"/>
<rect x="262" y="314.6" width="59.3" height="24.7" fill="#fff" stroke="#b5445e" stroke-width="1"/>
<text x="291.8" y="324.7" font-size="9" fill="#b0425c" stroke="#b0425c" stroke-width="0.2" text-anchor="middle" textLength="28.8" lengthAdjust="spacingAndGlyphs" >Group A</text>
<text x="291.6" y="334.6" font-size="7" fill="#231f20" stroke="#231f20" stroke-width="0.2" text-anchor="middle" textLength="28.3" lengthAdjust="spacingAndGlyphs" >Type I Abs</text>
<rect x="403.8" y="314.6" width="58.7" height="24.9" fill="#fff" stroke="#5775a3" stroke-width="1"/>
<text x="432.8" y="325.0" font-size="9" fill="#4f6f9c" stroke="#4f6f9c" stroke-width="0.2" text-anchor="middle" textLength="28.2" lengthAdjust="spacingAndGlyphs" >Group B</text>
<text x="433.1" y="334.6" font-size="7" fill="#231f20" stroke="#231f20" stroke-width="0.2" text-anchor="middle" textLength="44.8" lengthAdjust="spacingAndGlyphs" >Type I and II Abs</text>
<circle cx="285.9" cy="354.3" r="11.3" fill="#f8de9e"/>
<text x="285.7" y="356.1" font-size="5.0" fill="#2a2a2a" stroke="#2a2a2a" stroke-width="0.2" text-anchor="middle" >SP</text>
<path d="M269.5 368.2 C265.5 369.8, 262.8 372, 263.0 375.3 C263.3 378.2, 268 377.6, 271.6 379.0 C274 380, 275.2 381.8, 276 384" fill="none" stroke="#333" stroke-width="0.95"/>
<circle cx="275.3" cy="364.9" r="6.4" fill="#bddfa6"/>
<text x="275.1" y="366.7" font-size="5.0" fill="#2a2a2a" stroke="#2a2a2a" stroke-width="0.2" text-anchor="middle" >K2</text>
<ellipse cx="278.1" cy="401.2" rx="7.1" ry="8.8" fill="#5874b4"/>
<text x="278.1" y="403.40000000000003" font-size="5.0" fill="#1e2a44" stroke="#1e2a44" stroke-width="0.2" text-anchor="middle" >Gla</text>
<circle cx="278.9" cy="387.8" r="6.4" fill="#d2352a"/>
<text x="278.9" y="389.6" font-size="5.0" fill="#2a2a2a" stroke="#2a2a2a" stroke-width="0.2" text-anchor="middle" >K1</text>
<g transform="translate(0,0)" fill="none" stroke-linecap="round">
<path d="M287.9 375.5 C289.5 378.5, 290.3 381, 292 382.8 C293.5 384.2, 295.5 384.8, 298 385.8 L309.6 390.6" stroke="#7c7c7e" stroke-width="2.3"/>
<path d="M282.2 392.0 C284.5 390, 286.5 388.6, 289 388.3 C291 388.0, 293.5 388.6, 296 389.6 L308.3 394.3" stroke="#7c7c7e" stroke-width="2.3"/>
<path d="M291.1 374.9 L294.4 381.4" stroke="#eea05c" stroke-width="2.5"/>
<path d="M284.4 394.9 L290.3 392.2" stroke="#eea05c" stroke-width="2.5"/>
</g>
<text x="300.3" y="401.7" font-size="7.2" fill="#231f20" stroke="#231f20" stroke-width="0.2" text-anchor="start" textLength="27.5" lengthAdjust="spacingAndGlyphs" >Type I Abs</text>
<text x="300.9" y="349.8" font-size="7.2" fill="#231f20" stroke="#231f20" stroke-width="0.2" text-anchor="start" textLength="23.0" lengthAdjust="spacingAndGlyphs" >PT Open</text>
<circle cx="376.7" cy="354.3" r="11.7" fill="#f8de9e"/>
<text x="376.3" y="355.7" font-size="5.0" fill="#2a2a2a" stroke="#2a2a2a" stroke-width="0.2" text-anchor="middle" >SP</text>
<path d="M367.5 370.4 C369 373.5, 370.5 376.5, 372 375.5 C373.5 374.3, 373.5 370.5, 375.5 369 C377.3 367.7, 379.5 366.8, 381 366.3" fill="none" stroke="#333" stroke-width="0.95"/>
<circle cx="365.9" cy="364.7" r="6.5" fill="#bddfa6"/>
<text x="365.9" y="366.5" font-size="5.0" fill="#2a2a2a" stroke="#2a2a2a" stroke-width="0.2" text-anchor="middle" >K2</text>
<ellipse cx="400.1" cy="359.9" rx="8.4" ry="6.3" fill="#5874b4" transform="rotate(-10 400.1 359.9)"/>
<text x="400.8" y="361.40000000000003" font-size="5.0" fill="#e4e8f2" stroke="#e4e8f2" stroke-width="0.2" text-anchor="middle" >Gla</text>
<circle cx="387.2" cy="362.6" r="6.7" fill="#d2352a"/>
<text x="387.2" y="364.40000000000003" font-size="5.0" fill="#2a2a2a" stroke="#2a2a2a" stroke-width="0.2" text-anchor="middle" >K1</text>
<g fill="none" stroke-linecap="round"><path d="M388.6 388.0 L396.6 376.6 C397.8 374.8, 399.2 373.4, 399.3 371.5 L399.4 364.6" stroke="#bfd6e3" stroke-width="2.2"/><path d="M391.9 391.0 L400.8 378.2 C401.8 376.6, 403.0 375.5, 405.0 375.3 L412.6 375.0" stroke="#bfd6e3" stroke-width="2.2"/><path d="M396.0 366.0 L396.4 372.5" stroke="#6b3290" stroke-width="2.4"/><path d="M405.0 379.6 L412.6 378.6" stroke="#6b3290" stroke-width="2.4"/></g>
<text x="389.3" y="398.7" font-size="7.2" fill="#231f20" stroke="#231f20" stroke-width="0.2" text-anchor="start" textLength="29.3" lengthAdjust="spacingAndGlyphs" >Type II Abs</text>
<text x="390.0" y="350.1" font-size="7.2" fill="#231f20" stroke="#231f20" stroke-width="0.2" text-anchor="start" textLength="26.8" lengthAdjust="spacingAndGlyphs" >PT Closed</text>
<circle cx="466.2" cy="355.2" r="11.6" fill="#f8de9e"/>
<text x="466.0" y="357.0" font-size="5.0" fill="#2a2a2a" stroke="#2a2a2a" stroke-width="0.2" text-anchor="middle" >SP</text>
<path d="M450.2 370.7 C446 372, 443.5 374, 443.8 377.5 C444 380, 448 380, 451.5 381 C455 382, 456.5 383.5, 457.6 385.5" fill="none" stroke="#333" stroke-width="0.95"/>
<circle cx="455.6" cy="366.4" r="6.4" fill="#bddfa6"/>
<text x="455.5" y="368.2" font-size="5.0" fill="#2a2a2a" stroke="#2a2a2a" stroke-width="0.2" text-anchor="middle" >K2</text>
<ellipse cx="459.3" cy="403.4" rx="7.2" ry="8.3" fill="#5874b4"/>
<text x="459.3" y="405.6" font-size="5.0" fill="#1e2a44" stroke="#1e2a44" stroke-width="0.2" text-anchor="middle" >Gla</text>
<circle cx="459.1" cy="390.1" r="6.8" fill="#d2352a"/>
<text x="459.1" y="391.90000000000003" font-size="5.0" fill="#2a2a2a" stroke="#2a2a2a" stroke-width="0.2" text-anchor="middle" >K1</text>
<g transform="translate(180.7,1.6)" fill="none" stroke-linecap="round">
<path d="M287.9 375.5 C289.5 378.5, 290.3 381, 292 382.8 C293.5 384.2, 295.5 384.8, 298 385.8 L309.6 390.6" stroke="#7c7c7e" stroke-width="2.3"/>
<path d="M282.2 392.0 C284.5 390, 286.5 388.6, 289 388.3 C291 388.0, 293.5 388.6, 296 389.6 L308.3 394.3" stroke="#7c7c7e" stroke-width="2.3"/>
<path d="M291.1 374.9 L294.4 381.4" stroke="#eea05c" stroke-width="2.5"/>
<path d="M284.4 394.9 L290.3 392.2" stroke="#eea05c" stroke-width="2.5"/>
</g>
<text x="480.1" y="402.7" font-size="7.2" fill="#231f20" stroke="#231f20" stroke-width="0.2" text-anchor="start" textLength="27.5" lengthAdjust="spacingAndGlyphs" >Type I Abs</text>
<text x="479.8" y="349.8" font-size="7.2" fill="#231f20" stroke="#231f20" stroke-width="0.2" text-anchor="start" textLength="23.3" lengthAdjust="spacingAndGlyphs" >PT Open</text>
<g fill="none" stroke-linecap="round"><path d="M429.2 391.8 L441.4 400.0 C442.5 400.8, 443.5 401.3, 445 401.3 L453.8 401.2" stroke="#bfd6e3" stroke-width="2.2"/><path d="M426.5 394.9 L440.0 403.6 C441.8 404.8, 442.8 406, 443.0 408 L443.6 415.4" stroke="#bfd6e3" stroke-width="2.2"/><path d="M444.9 399.0 L452.1 397.6" stroke="#6b3290" stroke-width="2.4"/><path d="M438.4 407.9 L439.9 415.4" stroke="#6b3290" stroke-width="2.4"/></g>
</svg>
<div style="position:absolute;left:0;top:0;width:520px;height:1px;background:#000"></div>
<div style="position:absolute;left:0;top:1px;width:520px;height:1px;background:#e2e2e2"></div>
<div style="position:absolute;left:0;top:466px;width:520px;height:1px;background:#000"></div>
<div style="position:absolute;left:0;top:465px;width:520px;height:1px;background:#cfcfcf"></div>
<div style="position:absolute;left:0;top:1px;width:1px;height:465px;background:#484848"></div>
<div style="position:absolute;left:1px;top:2px;width:1px;height:463px;background:#9e9e9e"></div>
<div style="position:absolute;left:519px;top:1px;width:1px;height:465px;background:#4a4a4a"></div>
<div style="position:absolute;left:518px;top:2px;width:1px;height:463px;background:#a2a2a2"></div>
</body></html>
